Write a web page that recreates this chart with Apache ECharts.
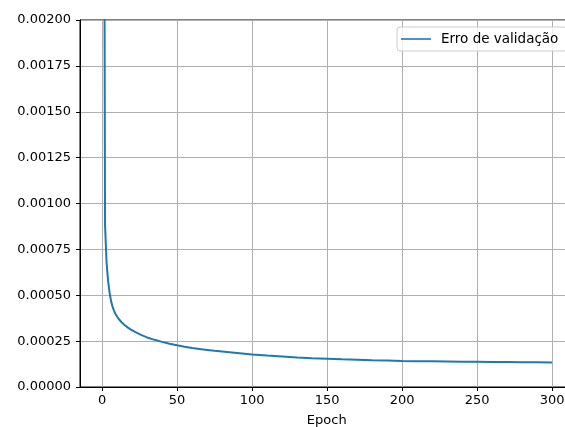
<!DOCTYPE html>
<html>
<head>
<meta charset="utf-8">
<script src="https://cdn.jsdelivr.net/npm/echarts@6/dist/echarts.min.js"></script>
<style>
html,body{margin:0;padding:0;background:#fff;}
#chart{width:565px;height:427px;}
</style>
</head>
<body>
<div id="chart"></div>
<script>
const epochs = [1,2,3,4,5,6,7,8,9,10,11,12,13,14,15,16,17,18,19,20,22,24,26,28,30,35,40,45,50,55,60,65,70,75,80,85,90,95,100,110,120,130,140,150,160,170,180,190,200,210,220,230,240,250,260,270,280,290,300];
const validationError = [0.0045,0.00088,0.00068,0.00058,0.000515,0.000468,0.000438,0.000415,0.000398,0.000384,0.000372,0.000362,0.000353,0.000345,0.000338,0.000331,0.000325,0.000319,0.000314,0.000309,0.0003,0.000292,0.000284,0.000277,0.00027,0.000257,0.000246,0.000236,0.000227,0.000219,0.000212,0.000207,0.000202,0.000197,0.000193,0.000189,0.000185,0.000181,0.000177,0.000171,0.000166,0.000161,0.000157,0.000154,0.000151,0.000149,0.000146,0.000144,0.000142,0.000141,0.00014,0.000139,0.000138,0.000137,0.000136,0.000136,0.000135,0.000135,0.000134];
const xTicks = [0,50,100,150,200,250,300];
const seriesName = 'Erro de validação';
const xTitle = 'Epoch';

const chart = echarts.init(document.getElementById('chart'));
const font = 'DejaVu Sans';
chart.setOption({
  animation: false,
  backgroundColor: '#fff',
  grid: {left: 80, top: 20, width: 493.5, height: 367, outerBoundsMode: 'none', containLabel: false,
         show: true, borderColor: '#000', borderWidth: 1, backgroundColor: 'transparent'},
  legend: {
    left: 397, top: 27, padding: [5, 8, 5, 4],
    itemWidth: 30, itemHeight: 10, itemGap: 10,
    borderColor: '#cccccc', borderWidth: 1, borderRadius: 3,
    backgroundColor: 'rgba(255,255,255,0.8)',
    textStyle: {fontFamily: font, fontSize: 13.5, color: '#000', padding: [0, 0, 0, 5]},
    data: [{name: seriesName, icon: 'path://M0,4.2 L30,4.2 L30,5.8 L0,5.8 Z'}]
  },
  xAxis: {
    type: 'value', min: -14.7, max: 314.3,
    name: xTitle, nameLocation: 'middle', nameGap: 27,
    nameTextStyle: {fontFamily: font, fontSize: 13, color: '#000'},
    axisLine: {show: true, onZero: false, lineStyle: {color: '#000', width: 1}},
    axisTick: {show: true, length: 4, lineStyle: {color: '#000'}, customValues: xTicks},
    axisLabel: {fontFamily: font, fontSize: 13, color: '#000', margin: 7, customValues: xTicks, hideOverlap: false},
    splitLine: {show: true, lineStyle: {color: '#b0b0b0', width: 1}, customValues: xTicks}
  },
  yAxis: {
    type: 'value', min: 0, max: 0.002, interval: 0.00025,
    axisLine: {show: true, onZero: false, lineStyle: {color: '#000', width: 1}},
    axisTick: {show: true, length: 4, lineStyle: {color: '#000'}},
    axisLabel: {fontFamily: font, fontSize: 13, color: '#000', margin: 9, formatter: v => v.toFixed(5)},
    splitLine: {show: true, lineStyle: {color: '#b0b0b0', width: 1}}
  },
  series: [{
    name: seriesName, type: 'line', showSymbol: false, clip: true,
    data: epochs.map((e, i) => [e, validationError[i]]),
    lineStyle: {color: '#1f77b4', width: 2},
    itemStyle: {color: '#1f77b4'}
  }]
});
</script>
</body>
</html>
